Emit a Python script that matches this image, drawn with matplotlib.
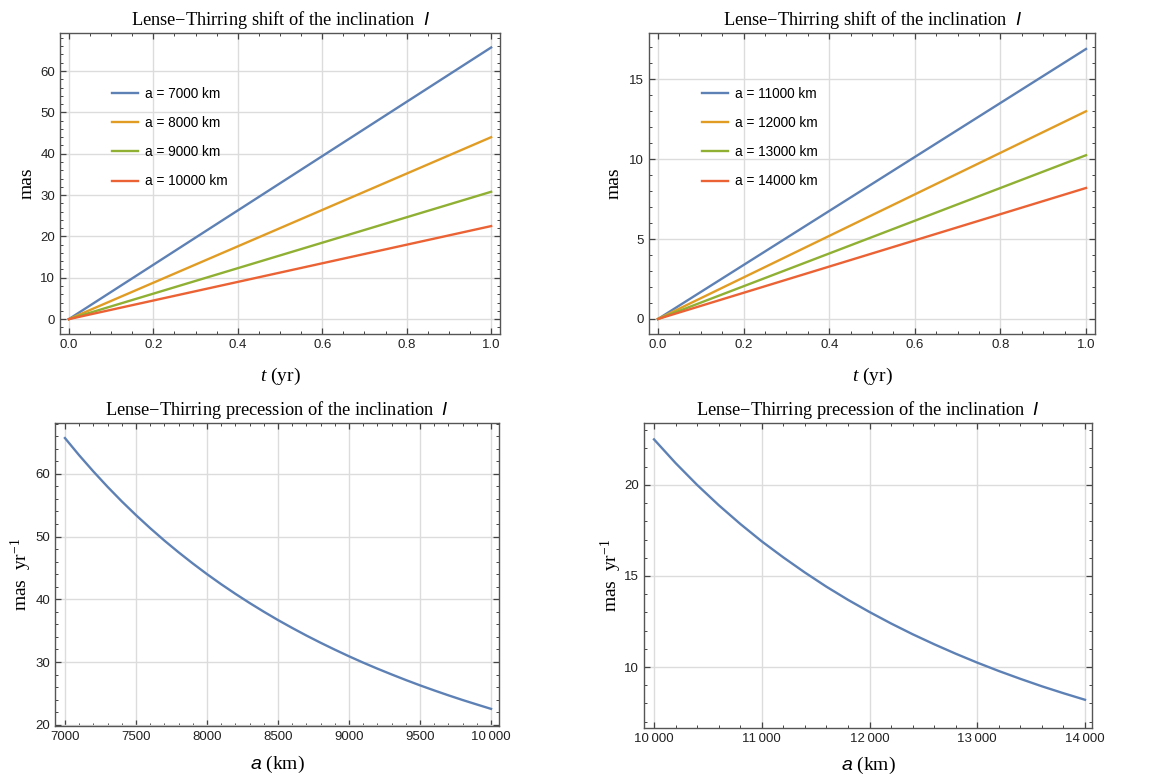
import numpy as np
import matplotlib
matplotlib.use("Agg")
import matplotlib.pyplot as plt
from matplotlib.ticker import MultipleLocator, FuncFormatter

plt.rcParams['mathtext.fontset'] = 'custom'
plt.rcParams['mathtext.rm'] = 'Liberation Serif'
plt.rcParams['mathtext.it'] = 'Liberation Serif:italic'
plt.rcParams['mathtext.sf'] = 'Liberation Sans:italic'
plt.rcParams['font.family'] = ['Liberation Sans', 'DejaVu Sans']

# ---- data ----
t_years = [0.0, 1.0]
labels_left = ["a = 7000 km", "a = 8000 km", "a = 9000 km", "a = 10000 km"]
shift_left = [65.7, 44.0, 30.8, 22.5]          # mas after 1 yr
labels_right = ["a = 11000 km", "a = 12000 km", "a = 13000 km", "a = 14000 km"]
shift_right = [16.9, 13.0, 10.25, 8.2]

a_left = [7000, 7100, 7200, 7300, 7400, 7500, 7600, 7700, 7800, 7900,
          8000, 8100, 8200, 8300, 8400, 8500, 8600, 8700, 8800, 8900,
          9000, 9100, 9200, 9300, 9400, 9500, 9600, 9700, 9800, 9900, 10000]
prec_left = [65.70, 62.96, 60.38, 57.93, 55.61, 53.42, 51.34, 49.36, 47.49, 45.71,
             44.01, 42.40, 40.87, 39.41, 38.02, 36.69, 35.43, 34.22, 33.07, 31.97,
             30.91, 29.90, 28.94, 28.02, 27.13, 26.28, 25.47, 24.69, 23.94, 23.23, 22.53]
a_right = [10000, 10200, 10400, 10600, 10800, 11000, 11200, 11400, 11600, 11800,
           12000, 12200, 12400, 12600, 12800, 13000, 13200, 13400, 13600, 13800, 14000]
prec_right = [22.50, 21.20, 20.00, 18.89, 17.86, 16.90, 16.02, 15.19, 14.41, 13.69,
              13.02, 12.39, 11.80, 11.25, 10.73, 10.24, 9.78, 9.35, 8.94, 8.56, 8.20]

colors = ["#5E81B5", "#E19C24", "#8FB032", "#EB6235"]

W, H = 1153, 775
fig = plt.figure(figsize=(W / 100, H / 100), dpi=100)

def px_axes(x0, y0, x1, y1):
    return fig.add_axes([x0 / W, 1 - y1 / H, (x1 - x0) / W, (y1 - y0) / H])

def style(ax, xmaj, xmin, ymaj, ymin):
    ax.xaxis.set_major_locator(MultipleLocator(xmaj))
    ax.xaxis.set_minor_locator(MultipleLocator(xmin))
    ax.yaxis.set_major_locator(MultipleLocator(ymaj))
    ax.yaxis.set_minor_locator(MultipleLocator(ymin))
    ax.tick_params(which='both', direction='in', top=True, right=True,
                   colors='#444444', labelcolor='#222222', labelsize=9.5)
    ax.tick_params(which='major', length=4, width=0.9)
    ax.tick_params(which='minor', length=2.2, width=0.7)
    ax.grid(True, which='major', color='#dcdcdc', lw=1)
    ax.set_axisbelow(True)
    for s in ax.spines.values():
        s.set_color('#555555')
        s.set_linewidth(1.0)

def kfmt(v, pos):
    v = int(round(v))
    if abs(v) >= 10000:
        s = f"{v:d}"
        return s[:-3] + "\u2009" + s[-3:]
    return f"{v:d}"

title_shift = r"Lense$-$Thirring shift of the inclination  $\mathsf{I}$"
title_prec = r"Lense$-$Thirring precession of the inclination  $\mathsf{I}$"
tfont = {'family': 'Liberation Serif', 'size': 13.2}
serif = {'family': 'Liberation Serif', 'size': 14}

leg_kw = dict(loc='upper left', frameon=False, fontsize=9.8, handlelength=1.9,
              labelspacing=1.12, handletextpad=0.55, borderaxespad=0, borderpad=0)

# top-left
ax1 = px_axes(60, 33, 500, 334)
for lab, v, c in zip(labels_left, shift_left, colors):
    ax1.plot(t_years, [0, v], color=c, lw=1.7, label=lab)
ax1.set_xlim(-0.021, 1.021)
ax1.set_ylim(-3.6, 69.2)
style(ax1, 0.2, 0.05, 10, 2)
ax1.xaxis.set_major_formatter(FuncFormatter(lambda v, p: f"{v:.1f}"))
ax1.set_title(title_shift, fontdict=tfont, pad=6)
ax1.set_ylabel("mas", fontdict=serif, labelpad=3)
ax1.set_xlabel(r"$t$ (yr)", fontdict=serif, labelpad=11)
ax1.legend(bbox_to_anchor=(0.118, 0.822), **leg_kw)

# top-right
ax2 = px_axes(649, 33, 1095, 334)
for lab, v, c in zip(labels_right, shift_right, colors):
    ax2.plot(t_years, [0, v], color=c, lw=1.7, label=lab)
ax2.set_xlim(-0.021, 1.021)
ax2.set_ylim(-0.94, 17.9)
style(ax2, 0.2, 0.05, 5, 1)
ax2.xaxis.set_major_formatter(FuncFormatter(lambda v, p: f"{v:.1f}"))
ax2.set_title(title_shift, fontdict=tfont, pad=6)
ax2.set_ylabel("mas", fontdict=serif, labelpad=5)
ax2.set_xlabel(r"$t$ (yr)", fontdict=serif, labelpad=11)
ax2.legend(bbox_to_anchor=(0.119, 0.822), **leg_kw)

# bottom-left
ax3 = px_axes(55, 423, 499, 726)
ax3.plot(a_left, prec_left, color=colors[0], lw=1.7)
ax3.set_xlim(6930, 10056)
ax3.set_ylim(19.8, 68.1)
style(ax3, 500, 100, 10, 2)
ax3.xaxis.set_major_formatter(FuncFormatter(kfmt))
ax3.set_title(title_prec, fontdict=tfont, pad=6)
ax3.set_ylabel(r"mas  yr$^{-1}$", fontdict=serif, labelpad=1)
ax3.set_xlabel(r"$\mathsf{a}$ (km)", fontdict=serif, labelpad=8)

# bottom-right
ax4 = px_axes(644, 423, 1092, 728)
ax4.plot(a_right, prec_right, color=colors[0], lw=1.7)
ax4.set_xlim(9907, 14065)
ax4.set_ylim(6.65, 23.4)
style(ax4, 1000, 200, 5, 1)
ax4.xaxis.set_major_formatter(FuncFormatter(kfmt))
ax4.set_title(title_prec, fontdict=tfont, pad=6)
ax4.set_ylabel(r"mas  yr$^{-1}$", fontdict=serif, labelpad=0)
ax4.set_xlabel(r"$\mathsf{a}$ (km)", fontdict=serif, labelpad=7)

fig.savefig("out.png", dpi=100)
